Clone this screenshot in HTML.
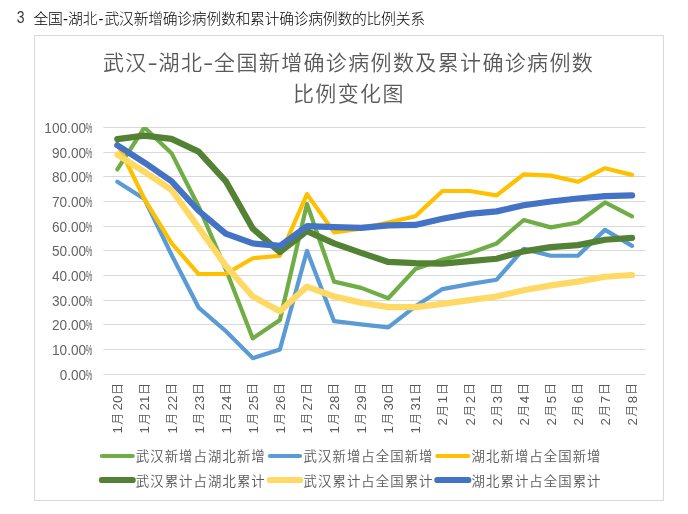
<!DOCTYPE html>
<html lang="zh-CN">
<head>
<meta charset="utf-8">
<title>全国-湖北-武汉新增确诊病例数和累计确诊病例数的比例关系</title>
<style>
html,body{margin:0;padding:0;background:#fff;}
body{width:688px;height:514px;overflow:hidden;position:relative;font-family:"Liberation Sans","Noto Sans CJK SC",sans-serif;}
svg{position:absolute;left:0;top:0;display:block;}
svg text{font-family:"Liberation Sans","Noto Sans CJK SC",sans-serif;}
.hd{fill:#000;font-size:14.8px;font-weight:300;letter-spacing:-0.24px;}
.ttl{fill:#595959;font-size:21px;letter-spacing:1.36px;font-weight:350;}
.ax{fill:#646464;font-size:14.8px;}
.axx{fill:#595959;font-size:13.33px;font-weight:350;}
.axc{font-size:12px;}
.pc{font-size:14px;}
.lg{fill:#595959;font-size:13.4px;letter-spacing:1.05px;font-weight:350;}
</style>
</head>
<body>
<svg width="688" height="514" viewBox="0 0 688 514" role="img" aria-label="武汉-湖北-全国新增确诊病例数及累计确诊病例数比例变化图">
<rect x="0" y="0" width="688" height="514" fill="#ffffff"/>
<text class="hd" x="16.8" y="23.1" style="font-size:16.4px;font-weight:400;letter-spacing:0;fill:#3a3a3a" textLength="7.8" lengthAdjust="spacingAndGlyphs">3</text>
<text class="hd" x="33.4" y="23.9">全国<tspan dx="0.5">-</tspan><tspan dx="0.4">湖北</tspan><tspan dx="1.2">-</tspan><tspan dx="1.4">武汉新增确诊病例数和累计确诊病例数的比例关系</tspan></text>
<rect x="34.5" y="35.5" width="629" height="465" fill="#ffffff" stroke="#D9D9D9" stroke-width="1"/>
<text class="ttl" x="103.0" y="70.0">武汉<tspan dx="-0.2" textLength="12.2" lengthAdjust="spacingAndGlyphs">-</tspan><tspan dx="-1.2">湖北</tspan><tspan dx="-0.2" textLength="12.2" lengthAdjust="spacingAndGlyphs">-</tspan><tspan dx="-1.2">全国新增确诊病例数及累计确诊病例数</tspan></text>
<text class="ttl" x="293.0" y="100.7">比例变化图</text>
<line x1="103.3" y1="127.50" x2="645.6" y2="127.50" stroke="#D9D9D9" stroke-width="1"/>
<text class="ax"><tspan x="44.30" y="133.10" textLength="41.80" lengthAdjust="spacingAndGlyphs">100.00</tspan><tspan class="pc" x="85.80" y="132.80" textLength="6.6" lengthAdjust="spacingAndGlyphs">%</tspan></text>
<line x1="103.3" y1="152.50" x2="645.6" y2="152.50" stroke="#D9D9D9" stroke-width="1"/>
<text class="ax"><tspan x="52.02" y="158.10" textLength="34.08" lengthAdjust="spacingAndGlyphs">90.00</tspan><tspan class="pc" x="85.80" y="157.80" textLength="6.6" lengthAdjust="spacingAndGlyphs">%</tspan></text>
<line x1="103.3" y1="176.50" x2="645.6" y2="176.50" stroke="#D9D9D9" stroke-width="1"/>
<text class="ax"><tspan x="52.02" y="182.10" textLength="34.08" lengthAdjust="spacingAndGlyphs">80.00</tspan><tspan class="pc" x="85.80" y="181.80" textLength="6.6" lengthAdjust="spacingAndGlyphs">%</tspan></text>
<line x1="103.3" y1="201.50" x2="645.6" y2="201.50" stroke="#D9D9D9" stroke-width="1"/>
<text class="ax"><tspan x="52.02" y="207.10" textLength="34.08" lengthAdjust="spacingAndGlyphs">70.00</tspan><tspan class="pc" x="85.80" y="206.80" textLength="6.6" lengthAdjust="spacingAndGlyphs">%</tspan></text>
<line x1="103.3" y1="226.50" x2="645.6" y2="226.50" stroke="#D9D9D9" stroke-width="1"/>
<text class="ax"><tspan x="52.02" y="232.10" textLength="34.08" lengthAdjust="spacingAndGlyphs">60.00</tspan><tspan class="pc" x="85.80" y="231.80" textLength="6.6" lengthAdjust="spacingAndGlyphs">%</tspan></text>
<line x1="103.3" y1="250.50" x2="645.6" y2="250.50" stroke="#D9D9D9" stroke-width="1"/>
<text class="ax"><tspan x="52.02" y="256.10" textLength="34.08" lengthAdjust="spacingAndGlyphs">50.00</tspan><tspan class="pc" x="85.80" y="255.80" textLength="6.6" lengthAdjust="spacingAndGlyphs">%</tspan></text>
<line x1="103.3" y1="275.50" x2="645.6" y2="275.50" stroke="#D9D9D9" stroke-width="1"/>
<text class="ax"><tspan x="52.02" y="281.10" textLength="34.08" lengthAdjust="spacingAndGlyphs">40.00</tspan><tspan class="pc" x="85.80" y="280.80" textLength="6.6" lengthAdjust="spacingAndGlyphs">%</tspan></text>
<line x1="103.3" y1="300.50" x2="645.6" y2="300.50" stroke="#D9D9D9" stroke-width="1"/>
<text class="ax"><tspan x="52.02" y="306.10" textLength="34.08" lengthAdjust="spacingAndGlyphs">30.00</tspan><tspan class="pc" x="85.80" y="305.80" textLength="6.6" lengthAdjust="spacingAndGlyphs">%</tspan></text>
<line x1="103.3" y1="324.50" x2="645.6" y2="324.50" stroke="#D9D9D9" stroke-width="1"/>
<text class="ax"><tspan x="52.02" y="330.10" textLength="34.08" lengthAdjust="spacingAndGlyphs">20.00</tspan><tspan class="pc" x="85.80" y="329.80" textLength="6.6" lengthAdjust="spacingAndGlyphs">%</tspan></text>
<line x1="103.3" y1="349.50" x2="645.6" y2="349.50" stroke="#D9D9D9" stroke-width="1"/>
<text class="ax"><tspan x="52.02" y="355.10" textLength="34.08" lengthAdjust="spacingAndGlyphs">10.00</tspan><tspan class="pc" x="85.80" y="354.80" textLength="6.6" lengthAdjust="spacingAndGlyphs">%</tspan></text>
<line x1="103.3" y1="374.50" x2="645.6" y2="374.50" stroke="#D9D9D9" stroke-width="1"/>
<text class="ax"><tspan x="59.74" y="380.10" textLength="26.36" lengthAdjust="spacingAndGlyphs">0.00</tspan><tspan class="pc" x="85.80" y="379.80" textLength="6.6" lengthAdjust="spacingAndGlyphs">%</tspan></text>
<clipPath id="pc"><rect x="93.8" y="127" width="561.8" height="260"/></clipPath>
<g clip-path="url(#pc)">
<polyline points="117.34,169.43 144.44,127.50 171.53,153.15 198.62,206.43 225.71,269.09 252.80,338.40 279.89,319.90 306.98,203.97 334.07,281.67 361.16,287.84 388.25,298.20 415.34,269.09 442.43,259.47 469.52,253.30 496.61,243.43 523.70,220.00 550.79,227.40 577.88,222.47 604.97,202.49 632.06,216.30" fill="none" stroke="#70AD47" stroke-width="4.2" stroke-linecap="round" stroke-linejoin="round"/>
<polyline points="117.34,181.77 144.44,199.03 171.53,254.78 198.62,307.57 225.71,331.00 252.80,358.14 279.89,349.50 306.98,250.84 334.07,321.14 361.16,324.34 388.25,327.30 415.34,306.34 442.43,289.07 469.52,284.14 496.61,279.70 523.70,248.86 550.79,255.77 577.88,255.77 604.97,229.87 632.06,245.90" fill="none" stroke="#5B9BD5" stroke-width="4.2" stroke-linecap="round" stroke-linejoin="round"/>
<polyline points="117.34,143.53 144.44,199.03 171.53,243.19 198.62,274.02 225.71,274.02 252.80,258.24 279.89,255.77 306.98,194.10 334.07,232.33 361.16,228.63 388.25,222.47 415.34,216.30 442.43,191.02 469.52,191.02 496.61,195.33 523.70,174.37 550.79,175.60 577.88,181.77 604.97,168.20 632.06,174.86" fill="none" stroke="#FFC000" stroke-width="4.2" stroke-linecap="round" stroke-linejoin="round"/>
<polyline points="117.34,139.09 144.44,135.64 171.53,138.85 198.62,151.67 225.71,181.03 252.80,228.63 279.89,252.07 306.98,231.10 334.07,243.43 361.16,252.81 388.25,261.94 415.34,263.17 442.43,263.66 469.52,261.20 496.61,258.73 523.70,251.33 550.79,247.13 577.88,245.16 604.97,239.73 632.06,237.88" fill="none" stroke="#548235" stroke-width="6.2" stroke-linecap="round" stroke-linejoin="round"/>
<polyline points="117.34,154.63 144.44,171.90 171.53,189.91 198.62,227.65 225.71,265.64 252.80,296.47 279.89,311.27 306.98,286.60 334.07,296.47 361.16,302.64 388.25,307.08 415.34,307.08 442.43,303.87 469.52,300.17 496.61,296.47 523.70,290.30 550.79,285.37 577.88,281.67 604.97,276.74 632.06,275.01" fill="none" stroke="#FFD966" stroke-width="6.2" stroke-linecap="round" stroke-linejoin="round"/>
<polyline points="117.34,145.26 144.44,162.53 171.53,181.27 198.62,210.75 225.71,233.57 252.80,243.43 279.89,245.90 306.98,226.17 334.07,227.15 361.16,227.89 388.25,225.43 415.34,224.93 442.43,218.77 469.52,213.83 496.61,211.37 523.70,205.20 550.79,201.50 577.88,198.54 604.97,196.07 632.06,195.33" fill="none" stroke="#4472C4" stroke-width="6.2" stroke-linecap="round" stroke-linejoin="round"/>
</g>
<text class="axx" transform="translate(117.34,0) rotate(-90)"><tspan x="-433.60" y="5">1</tspan><tspan class="axc" x="-424.85" y="4.2">月</tspan><tspan x="-410.50" y="5">20</tspan><tspan class="axc" x="-395.00" y="4.2">日</tspan></text>
<text class="axx" transform="translate(144.44,0) rotate(-90)"><tspan x="-433.60" y="5">1</tspan><tspan class="axc" x="-424.85" y="4.2">月</tspan><tspan x="-410.50" y="5">21</tspan><tspan class="axc" x="-395.00" y="4.2">日</tspan></text>
<text class="axx" transform="translate(171.53,0) rotate(-90)"><tspan x="-433.60" y="5">1</tspan><tspan class="axc" x="-424.85" y="4.2">月</tspan><tspan x="-410.50" y="5">22</tspan><tspan class="axc" x="-395.00" y="4.2">日</tspan></text>
<text class="axx" transform="translate(198.62,0) rotate(-90)"><tspan x="-433.60" y="5">1</tspan><tspan class="axc" x="-424.85" y="4.2">月</tspan><tspan x="-410.50" y="5">23</tspan><tspan class="axc" x="-395.00" y="4.2">日</tspan></text>
<text class="axx" transform="translate(225.71,0) rotate(-90)"><tspan x="-433.60" y="5">1</tspan><tspan class="axc" x="-424.85" y="4.2">月</tspan><tspan x="-410.50" y="5">24</tspan><tspan class="axc" x="-395.00" y="4.2">日</tspan></text>
<text class="axx" transform="translate(252.80,0) rotate(-90)"><tspan x="-433.60" y="5">1</tspan><tspan class="axc" x="-424.85" y="4.2">月</tspan><tspan x="-410.50" y="5">25</tspan><tspan class="axc" x="-395.00" y="4.2">日</tspan></text>
<text class="axx" transform="translate(279.89,0) rotate(-90)"><tspan x="-433.60" y="5">1</tspan><tspan class="axc" x="-424.85" y="4.2">月</tspan><tspan x="-410.50" y="5">26</tspan><tspan class="axc" x="-395.00" y="4.2">日</tspan></text>
<text class="axx" transform="translate(306.98,0) rotate(-90)"><tspan x="-433.60" y="5">1</tspan><tspan class="axc" x="-424.85" y="4.2">月</tspan><tspan x="-410.50" y="5">27</tspan><tspan class="axc" x="-395.00" y="4.2">日</tspan></text>
<text class="axx" transform="translate(334.07,0) rotate(-90)"><tspan x="-433.60" y="5">1</tspan><tspan class="axc" x="-424.85" y="4.2">月</tspan><tspan x="-410.50" y="5">28</tspan><tspan class="axc" x="-395.00" y="4.2">日</tspan></text>
<text class="axx" transform="translate(361.16,0) rotate(-90)"><tspan x="-433.60" y="5">1</tspan><tspan class="axc" x="-424.85" y="4.2">月</tspan><tspan x="-410.50" y="5">29</tspan><tspan class="axc" x="-395.00" y="4.2">日</tspan></text>
<text class="axx" transform="translate(388.25,0) rotate(-90)"><tspan x="-433.60" y="5">1</tspan><tspan class="axc" x="-424.85" y="4.2">月</tspan><tspan x="-410.50" y="5">30</tspan><tspan class="axc" x="-395.00" y="4.2">日</tspan></text>
<text class="axx" transform="translate(415.34,0) rotate(-90)"><tspan x="-433.60" y="5">1</tspan><tspan class="axc" x="-424.85" y="4.2">月</tspan><tspan x="-410.50" y="5">31</tspan><tspan class="axc" x="-395.00" y="4.2">日</tspan></text>
<text class="axx" transform="translate(442.43,0) rotate(-90)"><tspan x="-425.40" y="5">2</tspan><tspan class="axc" x="-416.75" y="4.2">月</tspan><tspan x="-403.20" y="5">1</tspan><tspan class="axc" x="-395.00" y="4.2">日</tspan></text>
<text class="axx" transform="translate(469.52,0) rotate(-90)"><tspan x="-425.40" y="5">2</tspan><tspan class="axc" x="-416.75" y="4.2">月</tspan><tspan x="-403.20" y="5">2</tspan><tspan class="axc" x="-395.00" y="4.2">日</tspan></text>
<text class="axx" transform="translate(496.61,0) rotate(-90)"><tspan x="-425.40" y="5">2</tspan><tspan class="axc" x="-416.75" y="4.2">月</tspan><tspan x="-403.20" y="5">3</tspan><tspan class="axc" x="-395.00" y="4.2">日</tspan></text>
<text class="axx" transform="translate(523.70,0) rotate(-90)"><tspan x="-425.40" y="5">2</tspan><tspan class="axc" x="-416.75" y="4.2">月</tspan><tspan x="-403.20" y="5">4</tspan><tspan class="axc" x="-395.00" y="4.2">日</tspan></text>
<text class="axx" transform="translate(550.79,0) rotate(-90)"><tspan x="-425.40" y="5">2</tspan><tspan class="axc" x="-416.75" y="4.2">月</tspan><tspan x="-403.20" y="5">5</tspan><tspan class="axc" x="-395.00" y="4.2">日</tspan></text>
<text class="axx" transform="translate(577.88,0) rotate(-90)"><tspan x="-425.40" y="5">2</tspan><tspan class="axc" x="-416.75" y="4.2">月</tspan><tspan x="-403.20" y="5">6</tspan><tspan class="axc" x="-395.00" y="4.2">日</tspan></text>
<text class="axx" transform="translate(604.97,0) rotate(-90)"><tspan x="-425.40" y="5">2</tspan><tspan class="axc" x="-416.75" y="4.2">月</tspan><tspan x="-403.20" y="5">7</tspan><tspan class="axc" x="-395.00" y="4.2">日</tspan></text>
<text class="axx" transform="translate(632.06,0) rotate(-90)"><tspan x="-425.40" y="5">2</tspan><tspan class="axc" x="-416.75" y="4.2">月</tspan><tspan x="-403.20" y="5">8</tspan><tspan class="axc" x="-395.00" y="4.2">日</tspan></text>
<line x1="101.9" y1="456.0" x2="132.7" y2="456.0" stroke="#70AD47" stroke-width="4.2" stroke-linecap="round"/>
<text class="lg" x="135.8" y="460.9">武汉新增占湖北新增</text>
<line x1="270.0" y1="456.0" x2="300.0" y2="456.0" stroke="#5B9BD5" stroke-width="4.2" stroke-linecap="round"/>
<text class="lg" x="303.6" y="460.9">武汉新增占全国新增</text>
<line x1="437.3" y1="456.0" x2="468.3" y2="456.0" stroke="#FFC000" stroke-width="4.2" stroke-linecap="round"/>
<text class="lg" x="471.6" y="460.9">湖北新增占全国新增</text>
<line x1="101.9" y1="480.0" x2="132.7" y2="480.0" stroke="#548235" stroke-width="6.2" stroke-linecap="round"/>
<text class="lg" x="135.8" y="485.5">武汉累计占湖北累计</text>
<line x1="270.0" y1="480.0" x2="300.0" y2="480.0" stroke="#FFD966" stroke-width="6.2" stroke-linecap="round"/>
<text class="lg" x="303.6" y="485.5">武汉累计占全国累计</text>
<line x1="437.3" y1="480.0" x2="468.3" y2="480.0" stroke="#4472C4" stroke-width="6.2" stroke-linecap="round"/>
<text class="lg" x="471.6" y="485.5">湖北累计占全国累计</text>
</svg>
</body>
</html>
